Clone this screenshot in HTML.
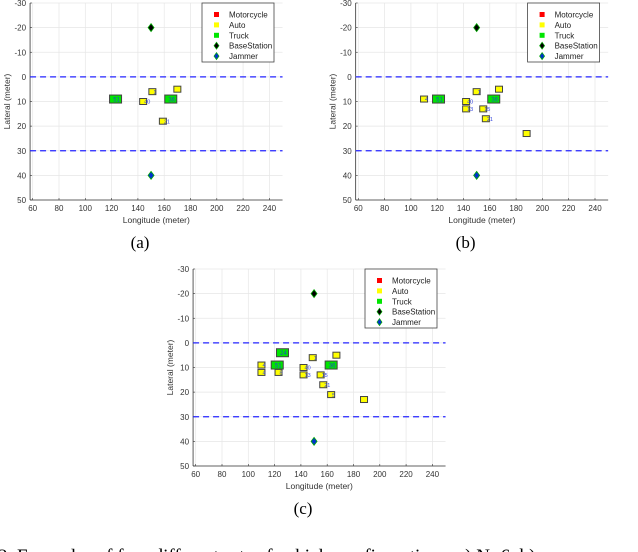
<!DOCTYPE html>
<html><head><meta charset="utf-8"><style>
body{margin:0;background:#fff;width:638px;height:552px;overflow:hidden}
svg{display:block}
text{font-family:"Liberation Sans",sans-serif}
text.serif{font-family:"Liberation Serif",serif}
</style></head><body>
<svg id="s" width="638" height="552"></svg>
<script>
const xTicks=[60,80,100,120,140,160,180,200,220,240];
const yTicks=[-30,-20,-10,0,10,20,30,40,50];
const laneLines=[0,30];
const baseStation=[150,-20];
const jammer=[150,40];
const legendLabels=["Motorcycle","Auto","Truck","BaseStation","Jammer"];
// panel a
const autoA_x=[151,170,144,159];
const autoA_y=[6,5,10,18];
const autoA_lbl=["1","","40","21"];
const truckA_x=[123,165];
const truckA_y=[9,9];
const truckA_lbl=["51","36"];
// panel b
const autoB_x=[110,150,167,142,142,155,157,188];
const autoB_y=[9,6,5,10,13,13,17,23];
const autoB_lbl=["4","1","","40","13","15","21",""];
const truckB_x=[121,163];
const truckB_y=[9,9];
const truckB_lbl=["51","36"];
// panel c
const autoC_x=[110,110,123,149,167,142,142,155,157,163,188];
const autoC_y=[9,12,12,6,5,10,13,13,17,21,23];
const autoC_lbl=["4","4","8","1","","40","13","15","21","5",""];
const truckC_x=[126,122,163];
const truckC_y=[4,9,9];
const truckC_lbl=["24","51","36"];

const NS="http://www.w3.org/2000/svg";
const svg=document.getElementById('s');
function mk(t,a,p){const e=document.createElementNS(NS,t);for(const k in a)e.setAttribute(k,a[k]);(p||svg).appendChild(e);return e;}

function panel(ox,oy,name,cap,ax,ay,al,tx,ty,tl){
  const g=mk('g',{});
  
  
  const Y0=-30,Y1=50;
  const px0=ox+32.7-2*1.315, px1=ox+32.7+190*1.315;
  const py0=oy+3, py1=oy+200;
  const sx=v=>ox+32.7+(v-60)*1.315;
  const sy=v=>py0+(v-Y0)*(py1-py0)/(Y1-Y0);
  mk('rect',{x:px0,y:py0,width:px1-px0,height:py1-py0,fill:'#fff'},g);
  xTicks.forEach(v=>mk('line',{x1:sx(v),x2:sx(v),y1:py0,y2:py1,stroke:'#e6e6e6','stroke-width':0.7},g));
  yTicks.forEach(v=>mk('line',{x1:px0,x2:px1,y1:sy(v),y2:sy(v),stroke:'#e6e6e6','stroke-width':0.7},g));
  mk('line',{x1:px0,x2:px0,y1:py0,y2:py1,stroke:'#333','stroke-width':0.8},g);
  mk('line',{x1:px0,x2:px1,y1:py1,y2:py1,stroke:'#333','stroke-width':0.8},g);
  xTicks.forEach(v=>{mk('line',{x1:sx(v),x2:sx(v),y1:py1,y2:py1-2,stroke:'#333','stroke-width':0.6},g);
    const t=mk('text',{x:sx(v),y:py1+11,'font-size':8,'text-anchor':'middle',fill:'#333'},g);t.textContent=v;});
  yTicks.forEach(v=>{mk('line',{x1:px0,x2:px0+2,y1:sy(v),y2:sy(v),stroke:'#333','stroke-width':0.6},g);
    const t=mk('text',{x:px0-4,y:sy(v)+3,'font-size':8,'text-anchor':'end',fill:'#333'},g);t.textContent=v;});
  let t=mk('text',{x:(px0+px1)/2,y:py1+23,'font-size':8.5,'text-anchor':'middle',fill:'#333'},g);t.textContent="Longitude (meter)";
  
  t=mk('text',{x:0,y:0,'font-size':8.5,'text-anchor':'middle',fill:'#333',transform:`translate(${ox+10},${(py0+py1)/2}) rotate(-90)`},g);t.textContent="Lateral (meter)";
  
  laneLines.forEach(v=>{const l=mk('line',{x1:px0,x2:px1,y1:sy(v),y2:sy(v),stroke:'#2323ff','stroke-width':1.2,'stroke-dasharray':'6,4'},g);
    });
  tx.forEach((v,i)=>{const r=mk('rect',{x:sx(v)-6,y:sy(ty[i])-4,width:12,height:8,fill:'#00e600',stroke:'#444','stroke-width':1},g);
    
    const l=mk('text',{x:sx(v)+1,y:sy(ty[i])+2.5,'font-size':6,fill:'#2244cc','text-anchor':'middle'},g);l.textContent=tl[i];});
  ax.forEach((v,i)=>{const r=mk('rect',{x:sx(v)-3.5,y:sy(ay[i])-3,width:7,height:6,fill:'#ffff00',stroke:'#444','stroke-width':1},g);
    
    const l=mk('text',{x:sx(v)+1,y:sy(ay[i])+2.2,'font-size':5.5,fill:'#3344dd'},g);l.textContent=al[i];});
  const dia=(x,y,c,n)=>{const d=mk('path',{d:`M${x},${y-4}L${x+3},${y}L${x},${y+4}L${x-3},${y}Z`,fill:c,stroke:'#00aa00','stroke-width':0.8},g);
    };
  dia(sx(baseStation[0]),sy(baseStation[1]),'#000','base-station-marker');
  dia(sx(jammer[0]),sy(jammer[1]),'#0033cc','jammer-marker');
  const lg=mk('g',{},g);
  
  mk('rect',{x:ox+202,y:oy+3,width:72,height:59,fill:'#fff',stroke:'#444','stroke-width':0.8},lg);
  const cols=['#ff0000','#ffff00','#00e600','#000','#0033cc'];
  legendLabels.forEach((s,i)=>{const y=oy+15+i*10.4;
    if(i<3) mk('rect',{x:ox+214,y:y-3,width:5,height:5,fill:cols[i]},lg);
    else mk('path',{d:`M${ox+216.5},${y-4}L${ox+219},${y-0.5}L${ox+216.5},${y+3}L${ox+214},${y-0.5}Z`,fill:cols[i],stroke:'#00aa00','stroke-width':0.7},lg);
    const tt=mk('text',{x:ox+229,y:y+2.5,'font-size':8,fill:'#222'},lg);tt.textContent=s;
    });
  const c=mk('text',{x:ox+140,y:oy+248,'font-size':17,'text-anchor':'middle',fill:'#000','class':'serif'},g);
  c.textContent=cap;
}
panel(0,0,'panel-a','(a)',autoA_x,autoA_y,autoA_lbl,truckA_x,truckA_y,truckA_lbl);
panel(325.6,0,'panel-b','(b)',autoB_x,autoB_y,autoB_lbl,truckB_x,truckB_y,truckB_lbl);
panel(163,266,'panel-c','(c)',autoC_x,autoC_y,autoC_lbl,truckC_x,truckC_y,truckC_lbl);
const cap=mk('text',{x:-2,y:562,'font-size':19,fill:'#000','class':'serif'});
cap.textContent="2.   Examples of four different sets of vehicle configurations: a) N=6, b)";


</script>
</body></html>
